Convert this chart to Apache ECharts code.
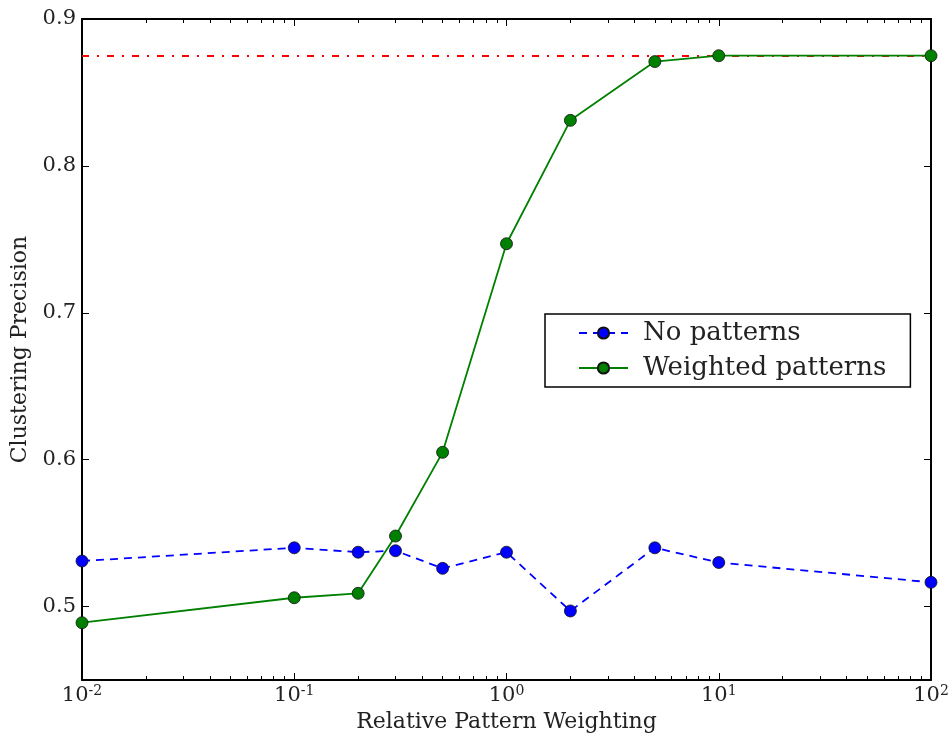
<!DOCTYPE html>
<html>
<head>
<meta charset="utf-8">
<script src="https://cdn.jsdelivr.net/npm/echarts@6/dist/echarts.min.js"></script>
<style>
  html, body { margin: 0; padding: 0; background: #fff; }
  #chart { width: 952px; height: 733px; }
</style>
</head>
<body>
<div id="chart"></div>
<script>
const weights = [0.01, 0.1, 0.2, 0.3, 0.5, 1, 2, 5, 10, 100]
const noPatterns = [0.531, 0.540, 0.537, 0.538, 0.526, 0.537, 0.497, 0.540, 0.530, 0.5165]
const weightedPatterns = [0.489, 0.506, 0.509, 0.548, 0.605, 0.747, 0.831, 0.871, 0.875, 0.875]
const referenceLevel = 0.875

const xMajorTicks = [0.01, 0.1, 1, 10, 100]
const xMinorTicks = [
  0.02, 0.03, 0.04, 0.05, 0.06, 0.07, 0.08, 0.09,
  0.2, 0.3, 0.4, 0.5, 0.6, 0.7, 0.8, 0.9,
  2, 3, 4, 5, 6, 7, 8, 9,
  20, 30, 40, 50, 60, 70, 80, 90
]
const yTicks = [0.5, 0.6, 0.7, 0.8, 0.9]

const font = 'DejaVu Serif'
const textColor = '#222'

var chart = echarts.init(document.getElementById('chart'))

const gridBox = { left: 82, top: 19, right: 21, bottom: 53, containLabel: false, outerBoundsMode: 'none' }

function pairs(ys) {
  return weights.map((w, i) => [w, ys[i]])
}

function frameX(position, gridIndex, showLabel) {
  return {
    type: 'log',
    logBase: 10,
    min: 0.01,
    max: 100,
    gridIndex: gridIndex,
    position: position,
    axisLine: { show: gridIndex === 0, lineStyle: { color: '#000', width: 2 } },
    axisTick: {
      show: true,
      inside: true,
      length: gridIndex === 0 ? 7 : 4,
      customValues: gridIndex === 0 ? xMajorTicks : xMinorTicks,
      lineStyle: { color: '#000', width: 1 }
    },
    axisLabel: {
      show: showLabel,
      customValues: xMajorTicks,
      margin: 4,
      formatter: v => '{b|10}{s|' + Math.round(Math.log10(v)) + '}',
      rich: {
        b: { fontFamily: font, fontSize: 21, color: textColor },
        s: { fontFamily: font, fontSize: 14, color: textColor, padding: [0, 0, 9, 0] }
      }
    },
    splitLine: { show: false },
    minorTick: { show: false }
  }
}

function frameY(position, showLabel) {
  return {
    type: 'value',
    min: 0.45,
    max: 0.9,
    position: position,
    axisLine: { show: true, lineStyle: { color: '#000', width: 2 } },
    axisTick: {
      show: true,
      inside: true,
      length: 7,
      customValues: yTicks,
      lineStyle: { color: '#000', width: 1 }
    },
    axisLabel: {
      show: showLabel,
      customValues: yTicks,
      margin: 6,
      fontFamily: font,
      fontSize: 21,
      color: textColor,
      formatter: v => v.toFixed(1)
    },
    splitLine: { show: false }
  }
}

var xBottom = frameX('bottom', 0, true)
xBottom.name = 'Relative Pattern Weighting'
xBottom.nameLocation = 'middle'
xBottom.nameGap = 25
xBottom.nameTextStyle = { fontFamily: font, fontSize: 22, color: textColor }

var yLeft = frameY('left', true)
yLeft.name = 'Clustering Precision'
yLeft.nameLocation = 'middle'
yLeft.nameGap = 51
yLeft.nameTextStyle = { fontFamily: font, fontSize: 22, color: textColor }

var option = {
  backgroundColor: '#fff',
  animation: false,
  grid: [
    Object.assign({}, gridBox),
    Object.assign({}, gridBox)
  ],
  xAxis: [
    xBottom,
    frameX('top', 0, false),
    frameX('bottom', 1, false),
    frameX('top', 1, false)
  ],
  yAxis: [
    yLeft,
    frameY('right', false),
    Object.assign(frameY('left', false), { gridIndex: 1, axisLine: { show: false }, axisTick: { show: false } })
  ],
  legend: {
    orient: 'vertical',
    left: 545,
    top: 314,
    padding: [4, 24, 4, 33],
    itemWidth: 49,
    itemHeight: 14,
    itemGap: 5,
    borderColor: '#000',
    borderWidth: 1.5,
    backgroundColor: '#fff',
    textStyle: { fontFamily: font, fontSize: 26, color: textColor, padding: [0, 0, 0, 10], lineHeight: 30 },
    data: ['No patterns', 'Weighted patterns']
  },
  series: [
    {
      name: 'No patterns',
      type: 'line',
      xAxisIndex: 0,
      yAxisIndex: 0,
      data: pairs(noPatterns),
      symbol: 'circle',
      symbolSize: 12,
      color: '#0000ff',
      lineStyle: { color: '#0000ff', width: 1.8, type: [8, 6] },
      itemStyle: { color: '#0000ff', borderColor: '#111', borderWidth: 0.8 },
      z: 2
    },
    {
      name: 'Weighted patterns',
      type: 'line',
      xAxisIndex: 0,
      yAxisIndex: 0,
      data: pairs(weightedPatterns),
      symbol: 'circle',
      symbolSize: 12,
      color: '#008000',
      lineStyle: { color: '#008000', width: 1.8 },
      itemStyle: { color: '#008000', borderColor: '#111', borderWidth: 0.8 },
      z: 3,
      markLine: {
        silent: true,
        symbol: 'none',
        precision: 4,
        label: { show: false },
        lineStyle: { color: '#ff0000', width: 1.8, type: [7, 8, 2, 8] },
        data: [{ yAxis: referenceLevel }],
        z: 1
      }
    }
  ]
}

option && chart.setOption(option)
</script>
</body>
</html>
